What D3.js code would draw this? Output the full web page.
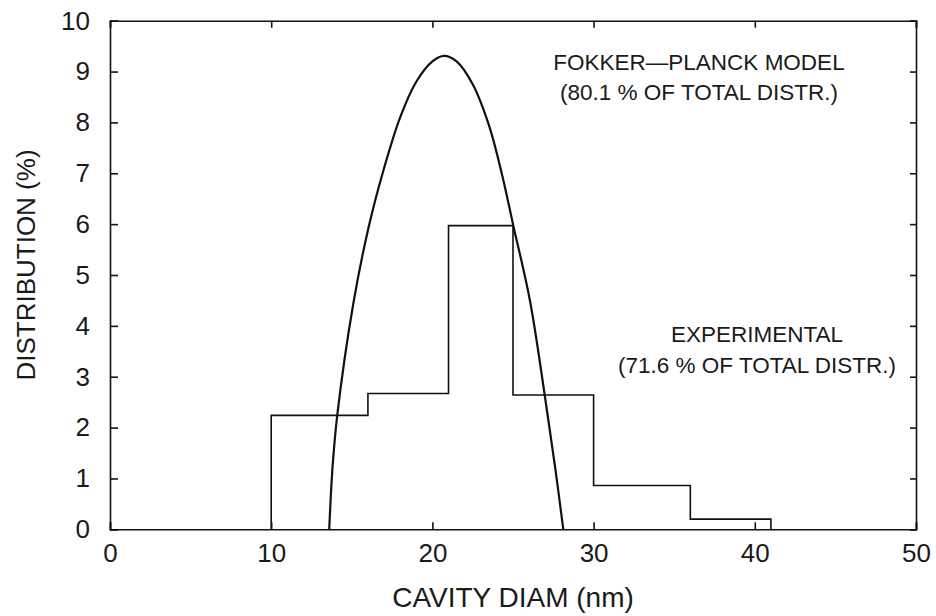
<!DOCTYPE html>
<html>
<head>
  <meta charset="utf-8">
  <script type="text/javascript" src="https://cdn.jsdelivr.net/npm/d3@7"></script>
  <style>
    body { margin: 0; background: #fff; }
    text { font-family: "Liberation Sans", Arial, sans-serif; fill: #1a1a1a; }
  </style>
</head>
<body>
  <div id="viz"></div>
  <script type="text/javascript">
    // histogram of measured cavity sizes (bin edges in nm, value in %)
    var binEdges = [10, 16, 21, 25, 30, 36, 41];
    var binValues = [2.24, 2.67, 5.97, 2.64, 0.86, 0.2];

    // Fokker-Planck model curve
    var modelX = [13.6, 13.8, 14.1, 15.1, 16.05, 17.0, 18.0, 19.0, 20.0, 20.72, 21.5, 22.5, 23.5, 24.3, 25.0, 26.05, 26.94, 27.6, 28.12];
    var modelY = [0, 1.2, 2.25, 4.45, 5.95, 7.1, 8.1, 8.8, 9.2, 9.31, 9.2, 8.75, 7.95, 7.0, 6.0, 4.5, 2.7, 1.25, 0];

    var xTicks = [0, 10, 20, 30, 40, 50];
    var yTicks = [0, 1, 2, 3, 4, 5, 6, 7, 8, 9, 10];

    var width = 936, height = 616;
    // plot frame (note: "top" is reserved on window, so prefixed names)
    var plotL = 110, plotR = 916, plotT = 20.7, plotB = 529.3;

    var x = d3.scaleLinear().domain([0, 50]).range([plotL, plotR]);
    var y = d3.scaleLinear().domain([0, 10]).range([plotB, plotT]);

    var svg = d3.select("#viz")
      .append("svg")
      .attr("width", width)
      .attr("height", height);

    // axes with inward ticks on all four sides
    var axB = svg.append("g").attr("transform", "translate(0," + plotB + ")")
      .call(d3.axisBottom(x).tickValues(xTicks).tickSize(-7).tickPadding(14).tickFormat(d3.format("d")));
    var axT = svg.append("g").attr("transform", "translate(0," + plotT + ")")
      .call(d3.axisTop(x).tickValues(xTicks).tickSize(-7).tickFormat(""));
    var axL = svg.append("g").attr("transform", "translate(" + plotL + ",0)")
      .call(d3.axisLeft(y).tickValues(yTicks).tickSize(-8).tickPadding(20).tickFormat(d3.format("d")));
    var axR = svg.append("g").attr("transform", "translate(" + plotR + ",0)")
      .call(d3.axisRight(y).tickValues(yTicks).tickSize(-6).tickFormat(""));

    [axB, axT, axL, axR].forEach(function(a) {
      a.select(".domain").attr("stroke", "#111").attr("stroke-width", 1.6);
      a.selectAll(".tick line").attr("stroke", "#111").attr("stroke-width", 1.6);
    });
    axB.selectAll(".tick text").attr("font-size", 26).attr("fill", "#1a1a1a");
    axL.selectAll(".tick text").attr("font-size", 26).attr("fill", "#1a1a1a");

    // axis titles
    svg.append("text")
      .attr("x", (plotL + plotR) / 2)
      .attr("y", 607)
      .attr("text-anchor", "middle")
      .attr("font-size", 28)
      .text("CAVITY DIAM (nm)");

    svg.append("text")
      .attr("transform", "translate(35,265) rotate(-90)")
      .attr("text-anchor", "middle")
      .attr("font-size", 26)
      .text("DISTRIBUTION (%)");

    // histogram as a step outline
    var steps = [];
    binValues.forEach(function(v, i) {
      steps.push([binEdges[i], v]);
      steps.push([binEdges[i + 1], v]);
    });
    steps.unshift([binEdges[0], 0]);
    steps.push([binEdges[binEdges.length - 1], 0]);

    svg.append("path")
      .datum(steps)
      .attr("fill", "none")
      .attr("stroke", "#111")
      .attr("stroke-width", 1.6)
      .attr("d", d3.line().x(function(d) { return x(d[0]); }).y(function(d) { return y(d[1]); }));

    // model curve
    var model = modelX.map(function(v, i) { return [v, modelY[i]]; });
    svg.append("path")
      .datum(model)
      .attr("fill", "none")
      .attr("stroke", "#111")
      .attr("stroke-width", 2.2)
      .attr("d", d3.line().curve(d3.curveCatmullRom.alpha(0.5))
        .x(function(d) { return x(d[0]); }).y(function(d) { return y(d[1]); }));

    // annotations
    var notes = [
      { cx: 699, lines: [["FOKKER\u2014PLANCK MODEL", 70], ["(80.1 % OF TOTAL DISTR.)", 100]] },
      { cx: 757, lines: [["EXPERIMENTAL", 342], ["(71.6 % OF TOTAL DISTR.)", 373]] }
    ];
    notes.forEach(function(n) {
      n.lines.forEach(function(l) {
        svg.append("text")
          .attr("x", n.cx)
          .attr("y", l[1])
          .attr("text-anchor", "middle")
          .attr("font-size", 22.5)
          .text(l[0]);
      });
    });
  </script>
</body>
</html>
